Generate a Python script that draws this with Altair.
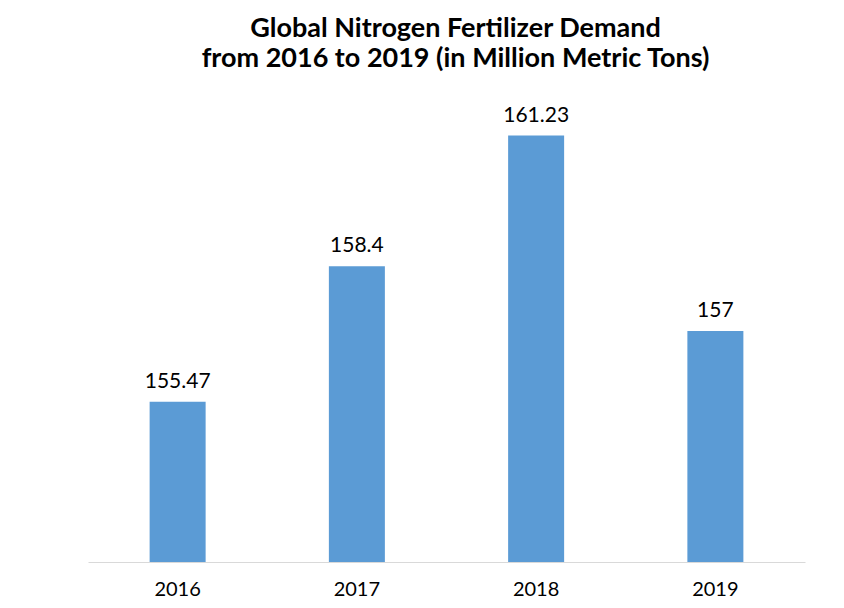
import altair as alt
import pandas as pd

years = ["2016", "2017", "2018", "2019"]
values = [155.47, 158.4, 161.23, 157]
labels = ["155.47", "158.4", "161.23", "157"]

df = pd.DataFrame({"year": years, "value": values, "label": labels})

FONT = "Lato"
BASE = 152

x = alt.X("year:N", sort=years, title=None,
          axis=alt.Axis(labelAngle=0, labelFontSize=20, labelFont=FONT, labelColor="#000000",
                        domainColor="#d9d9d9", domainWidth=1, ticks=False, labelPadding=17))
y = alt.Y("value:Q", scale=alt.Scale(domain=[BASE, 162], zero=False, nice=False), axis=None)

bars = alt.Chart(df).mark_bar(size=56, color="#5b9bd5").encode(
    x=x, y=y, y2=alt.datum(BASE)
)
text = alt.Chart(df).mark_text(baseline="bottom", dy=-10, fontSize=21, font=FONT, color="#000000").encode(
    x=x, y=y, text="label:N"
)

chart = (bars + text).properties(
    width=717, height=462,
    autosize=alt.AutoSizeParams(type="none"),
    padding={"left": 80, "top": 92, "right": 31, "bottom": 38},
    title=alt.TitleParams(
        ["Global Nitrogen Fertilizer Demand", "from 2016 to 2019 (in Million Metric Tons)"],
        fontSize=27, font=FONT, fontWeight="bold", color="#000000", lineHeight=30,
        anchor="middle", dx=9, offset=27
    ),
).configure_view(stroke=None).configure_axis(grid=False)

chart.save("out.html", embed_options={"renderer": "svg", "actions": False})
